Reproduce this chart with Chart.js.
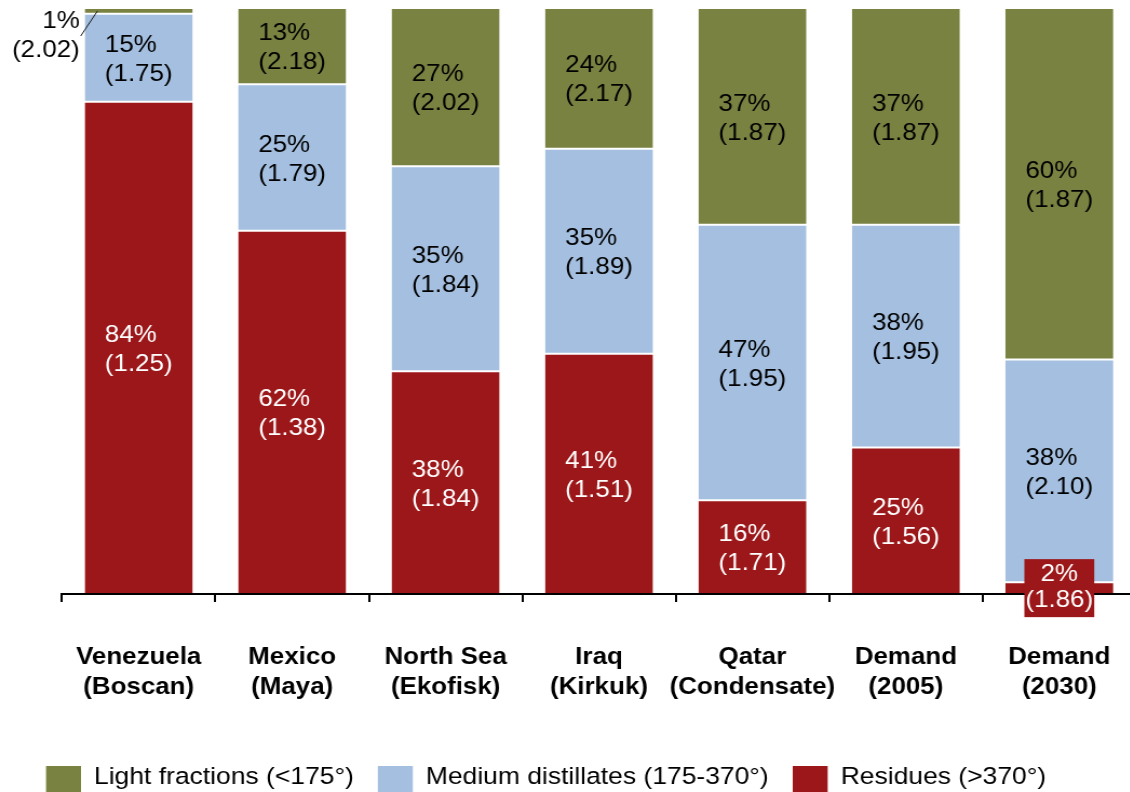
<!DOCTYPE html>
<html>
<head>
<meta charset="utf-8">
<script src="https://cdn.jsdelivr.net/npm/chart.js@4.4.1/dist/chart.umd.min.js"></script>
<style>
  html, body { margin: 0; padding: 0; background: #fff; overflow: hidden; width: 1130px; height: 792px; }
  #wrap { position: absolute; left: 0; top: 0; width: 1053px; height: 792px; transform: scaleX(1.08); transform-origin: 0 0; }
  canvas { display: block; }
</style>
</head>
<body>
<div id="wrap"><canvas id="c" width="1053" height="792"></canvas></div>
<script>
// Crude oil distillation yields: share of each fraction (%) and its value index
const categories = [
  ['Venezuela', '(Boscan)'],
  ['Mexico', '(Maya)'],
  ['North Sea', '(Ekofisk)'],
  ['Iraq', '(Kirkuk)'],
  ['Qatar', '(Condensate)'],
  ['Demand', '(2005)'],
  ['Demand', '(2030)']
];
const residuePct  = [84, 62, 38, 41, 16, 25, 2];
const residueIdx  = [1.25, 1.38, 1.84, 1.51, 1.71, 1.56, 1.86];
const mediumPct   = [15, 25, 35, 35, 47, 38, 38];
const mediumIdx   = [1.75, 1.79, 1.84, 1.89, 1.95, 1.95, 2.10];
const lightPct    = [1, 13, 27, 24, 37, 37, 60];
const lightIdx    = [2.02, 2.18, 2.02, 2.17, 1.87, 1.87, 1.87];
const seriesNames = ['Residues (>370°)', 'Medium distillates (175-370°)', 'Light fractions (<175°)'];

const SX = 1.08; // horizontal stretch applied to the canvas wrapper
const FONT = '"Liberation Sans", Arial, Helvetica, sans-serif';
const RED = '#9C1719', BLUE = '#A4BFDF', GREEN = '#798241';

// Segment labels: "NN%" over "(x.xx)", left-aligned block centred in the segment
const segmentLabels = {
  id: 'segmentLabels',
  afterDraw(chart, args, opts) {
    const ctx = chart.ctx;
    ctx.save();
    ctx.font = `24px ${FONT}`;
    ctx.textBaseline = 'middle';
    chart.data.datasets.forEach((ds, di) => {
      const meta = chart.getDatasetMeta(di);
      meta.data.forEach((bar, i) => {
        const p = bar.getProps(['x', 'y', 'base', 'width'], true);
        const lines = [`${ds.data[i]}%`, `(${ds.index[i].toFixed(2)})`];
        const w = Math.max(...lines.map(t => ctx.measureText(t).width));
        const left = p.x - p.width / 2;
        const cy = (p.y + p.base) / 2;
        const isCallout = opts.callout.dataset === di && opts.callout.index === i;
        const isBoxed = opts.boxed.dataset === di && opts.boxed.index === i;
        if (isCallout) {
          // small segment: label outside the bar with a leader line
          ctx.strokeStyle = '#1a1a1a';
          ctx.lineWidth = 1;
          ctx.beginPath();
          ctx.moveTo(left + 11.8, p.y + 3);
          ctx.lineTo(left - 3.7, p.y + 28);
          ctx.stroke();
          ctx.fillStyle = '#000';
          ctx.textAlign = 'right';
          ctx.fillText(lines[0], left - 4.6, p.y + 13);
          ctx.fillText(lines[1], left - 4.6, p.y + 42);
        } else if (isBoxed) {
          // small segment: label on a filled box in the segment colour
          const bw = w + 2, bh = 58;
          ctx.fillStyle = ds.backgroundColor;
          ctx.fillRect(p.x - bw / 2, cy - bh / 2, bw, bh);
          ctx.fillStyle = '#fff';
          ctx.textAlign = 'center';
          ctx.fillText(lines[0], p.x, cy - 14);
          ctx.fillText(lines[1], p.x, cy + 12);
        } else {
          ctx.fillStyle = ds.labelColor;
          ctx.textAlign = 'left';
          const lx = p.x - w / 2;
          ctx.fillText(lines[0], lx, cy - 12.5);
          ctx.fillText(lines[1], lx, cy + 16.5);
        }
      });
    });
    ctx.restore();
  }
};

// Legend row along the bottom edge (top series first)
const bottomLegend = {
  id: 'bottomLegend',
  afterDraw(chart, args, opts) {
    const ctx = chart.ctx;
    ctx.save();
    ctx.font = `24.5px ${FONT}`;
    ctx.textBaseline = 'middle';
    ctx.textAlign = 'left';
    let x = opts.left;
    const items = chart.data.datasets.slice().reverse();
    items.forEach(ds => {
      ctx.fillStyle = ds.backgroundColor;
      ctx.fillRect(x, opts.top, opts.boxW, opts.boxH);
      ctx.fillStyle = '#000';
      const tx = x + opts.boxW + opts.textGap;
      ctx.fillText(ds.label, tx, opts.textY);
      x = tx + ctx.measureText(ds.label).width + opts.itemGap;
    });
    ctx.restore();
  }
};

const segBorder = { top: 1, bottom: 1, left: 0, right: 0 };

new Chart(document.getElementById('c'), {
  type: 'bar',
  data: {
    labels: categories,
    datasets: [
      { label: seriesNames[0], data: residuePct, index: residueIdx, backgroundColor: RED, labelColor: '#fff',
        borderColor: '#fff', borderWidth: segBorder, borderSkipped: false },
      { label: seriesNames[1], data: mediumPct, index: mediumIdx, backgroundColor: BLUE, labelColor: '#000',
        borderColor: '#fff', borderWidth: segBorder, borderSkipped: false },
      { label: seriesNames[2], data: lightPct, index: lightIdx, backgroundColor: GREEN, labelColor: '#000',
        borderColor: '#fff', borderWidth: segBorder, borderSkipped: false }
    ]
  },
  options: {
    responsive: false,
    animation: false,
    events: [],
    barPercentage: 0.704,
    categoryPercentage: 1,
    layout: { padding: { left: 57.4, right: 1.15, top: 8, bottom: 0 } },
    plugins: {
      legend: { display: false },
      tooltip: { enabled: false },
      segmentLabels: {
        callout: { dataset: 2, index: 0 },
        boxed: { dataset: 0, index: 6 }
      },
      bottomLegend: { left: 42.6, top: 766, boxW: 32.4, boxH: 27, textGap: 12, itemGap: 22.2, textY: 777.5 }
    },
    scales: {
      x: {
        stacked: true,
        grid: { display: true, drawOnChartArea: false, drawTicks: true, tickLength: 8, color: '#000', lineWidth: 2, offset: true, z: 1 },
        border: { display: true, color: '#000', width: 2, z: 1 },
        ticks: {
          color: '#000', autoSkip: false, maxRotation: 0, padding: 41,
          font: { family: FONT, size: 24, weight: 'bold', lineHeight: 1.23 }
        },
        afterFit(scale) {
          scale.height = 198;
          scale.paddingLeft = 0;
          scale.paddingRight = 0;
        }
      },
      y: { stacked: true, display: false, min: 0, max: 100 }
    }
  },
  plugins: [segmentLabels, bottomLegend]
});
</script>
</body>
</html>
